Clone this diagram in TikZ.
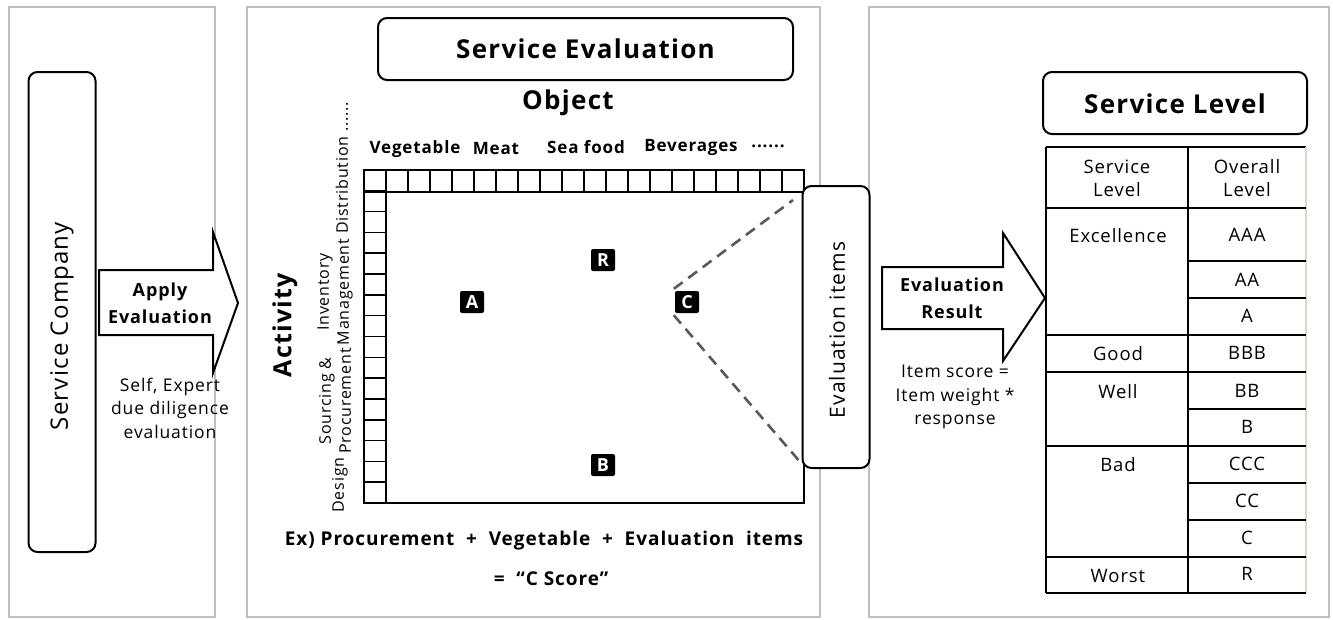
\documentclass[tikz,border=0pt]{standalone}
\usepackage{fontspec}
\setmainfont[LetterSpace=5]{Open Sans}
\begin{document}
\begin{tikzpicture}[x=1pt,y=-1pt,
  panel/.style={draw=black!25, line width=2.5pt},
  rbox/.style={draw, line width=2pt, rounded corners=9pt, fill=white, inner sep=0pt},
  badge/.style={fill=black, text=white, font=\bfseries\fontsize{18}{18}\selectfont, rounded corners=2pt, minimum width=24pt, minimum height=22pt, inner sep=0pt},
  blockarrow/.style={draw, line width=2pt, fill=white, line join=miter},
  cell/.style={draw, line width=1.6pt},
  tline/.style={line width=1.4pt},
  big/.style={font=\bfseries\fontsize{26}{30}\selectfont},
  mid/.style={font=\fontsize{17.5}{23.5}\selectfont, align=center},
  midb/.style={font=\bfseries\fontsize{18}{27}\selectfont, align=center},
  obj/.style={font=\bfseries\fontsize{17}{20}\selectfont},
  tab/.style={font=\fontsize{18.5}{23}\selectfont, align=center},
  rot/.style={rotate=90, font=\fontsize{16}{20}\selectfont, align=center},
  dashline/.style={draw=black!65, line width=2.6pt, dash pattern=on 11pt off 7pt}
]
\useasboundingbox (0,0) rectangle (1333,619);
% panels
\draw[panel] (9,7) rectangle (215,617);
\draw[panel] (247,7) rectangle (820,617);
\draw[panel] (869,7) rectangle (1329,617);

% ---- panel 1
\node[rbox, minimum width=67pt, minimum height=480pt] (company) at (62,312) {};
\node[rotate=90, font=\fontsize{24}{28}\selectfont] (companyt) at (62,326) {Service Company};
\draw[blockarrow] (99,270) -- (213,270) -- (213,232) -- (238,303) -- (213,373) -- (213,335) -- (99,335) -- cycle;
\node[midb] (apply) at (160,303) {Apply\\Evaluation};
\node[mid] (self) at (170,408) {Self, Expert\\due diligence\\evaluation};

% ---- panel 2
\node[rbox, minimum width=415pt, minimum height=62pt] (se) at (585.5,49) {};
\node[big] (set) at (585.5,49) {Service Evaluation};
\node[big] (object) at (568,103) {Object};
\node[obj] (veg) at (415,149) {Vegetable};
\node[obj] (meat) at (496,149) {Meat};
\node[obj] (sea) at (586,147) {Sea food};
\node[obj] (bev) at (691,147) {Beverages};
\node[obj] (dots) at (768,146) {......};

% grid
\foreach \i in {0,...,19} { \draw[cell] (364+22*\i,170) rectangle ++(22,22); }
\foreach \j in {0,...,15} { \draw[cell] (364,170+20.8125*\j) rectangle ++(22,20.8125); }
\draw[cell] (364,170) rectangle (804,503);

% activity labels
\node[rotate=90, font=\bfseries\fontsize{25}{28}\selectfont] (activity) at (285,325) {Activity};
\node[rot] (design) at (340,485) {Design};
\node[rot] (sourcing) at (335,401) {Sourcing \&\\Procurement};
\node[rot] (inventory) at (335,292) {Inventory\\Management};
\node[rot] (distrib) at (342,168) {Distribution ......};

% badges
\node[badge] (A) at (472,302) {A};
\node[badge] (R) at (603,260) {R};
\node[badge] (C) at (687,302) {C};
\node[badge] (B) at (603,465) {B};

% evaluation items box
\node[rbox, minimum width=67pt, minimum height=282pt] (ei) at (836,327) {};
\node[rotate=90, font=\fontsize{21}{24}\selectfont] (eit) at (837,330) {Evaluation items};
\coordinate (eiup) at (793,200);
\coordinate (eilow) at (801,463);
\draw[dashline] ([xshift=-1pt,yshift=2pt]C.north west) -- (eiup);
\draw[dashline] ([xshift=-1pt,yshift=-2pt]C.south west) -- (eilow);

\node[font=\bfseries\fontsize{19}{22}\selectfont] (ex) at (544,541) {Ex) Procurement\ \ +\ \ Vegetable\ \ +\ \ Evaluation\ \ items};
\node[font=\bfseries\fontsize{19}{22}\selectfont] (cs) at (551,579) {=\ \ “C Score”};

% ---- panel 3
\draw[blockarrow] (882,267) -- (1003,267) -- (1003,233) -- (1045,298) -- (1003,361) -- (1003,329) -- (882,329) -- cycle;
\node[midb] (evres) at (952,298) {Evaluation\\Result};
\node[mid] (score) at (955,397) {Item score =\\Item weight *\\response};

\node[rbox, minimum width=264pt, minimum height=62pt] (sl) at (1175,103) {};
\node[big] (slt) at (1175,104) {Service Level};

% table
\draw[tline] (1046,147) -- (1306,147);
\draw[tline, draw=black!15!yellow!20!gray!40] (1306,147) -- (1306,593);
\draw[line width=1.4pt] (1046,147) -- (1046,593);
\draw[line width=2pt] (1188,147) -- (1188,593);
\foreach \y in {208,335,372,446,557} { \draw[tline] (1046,\y) -- (1306,\y); }
\foreach \y in {261,298,409,483,520} { \draw[tline] (1188,\y) -- (1306,\y); }
\draw[line width=2pt] (1046,593) -- (1306,593);

\node[tab] (h1) at (1117,178) {Service\\Level};
\node[tab] (h2) at (1247,178) {Overall\\Level};
\node[tab] (exc) at (1118,236) {Excellence};
\node[tab] (aaa) at (1247,235) {AAA};
\node[tab] (aa) at (1247,280) {AA};
\node[tab] (a) at (1247,316) {A};
\node[tab] (good) at (1118,354) {Good};
\node[tab] (bbb) at (1247,353) {BBB};
\node[tab] (well) at (1118,392) {Well};
\node[tab] (bb) at (1247,391) {BB};
\node[tab] (b) at (1247,427) {B};
\node[tab] (bad) at (1118,465) {Bad};
\node[tab] (ccc) at (1247,464) {CCC};
\node[tab] (cc) at (1247,501) {CC};
\node[tab] (c) at (1247,538) {C};
\node[tab] (worst) at (1118,576) {Worst};
\node[tab] (r) at (1247,574) {R};
\end{tikzpicture}
\end{document}
